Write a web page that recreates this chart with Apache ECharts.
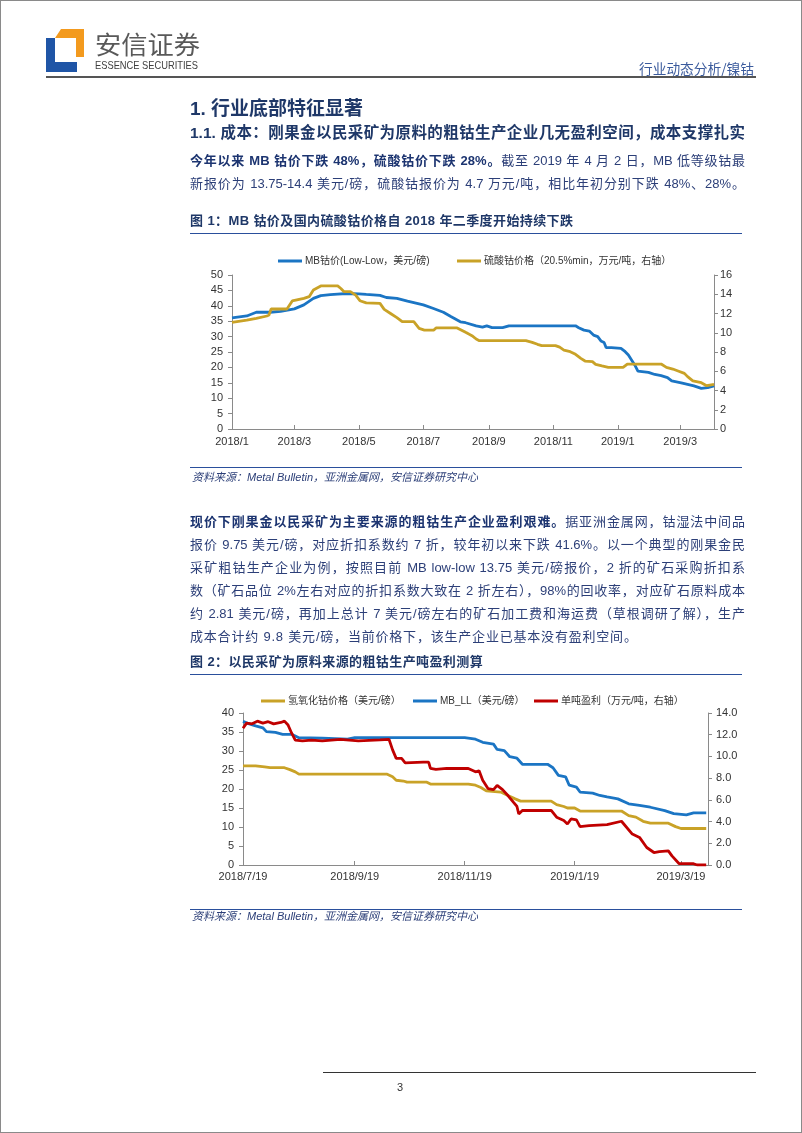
<!DOCTYPE html>
<html><head><meta charset="utf-8">
<script src="https://cdn.jsdelivr.net/npm/echarts@6/dist/echarts.min.js"></script>
<style>
html,body{margin:0;padding:0;background:#fff;}
#page{position:relative;width:802px;height:1133px;overflow:hidden;font-family:"Liberation Sans","Noto Sans CJK SC",sans-serif;}
#frame{position:absolute;left:0;top:0;width:800px;height:1131px;border:1px solid #8a8a8a;z-index:3;pointer-events:none;}
#chart{position:absolute;left:0;top:0;width:802px;height:1133px;z-index:0;}
.t{position:absolute;white-space:nowrap;z-index:2;}
.j{position:absolute;left:190px;width:555px;height:23px;line-height:23px;font-size:13px;color:#2c3f78;text-align:justify;text-align-last:justify;z-index:2;}
.j b{color:#1c3470;font-weight:700;}
.l{text-align:left;text-align-last:left;white-space:nowrap;letter-spacing:0.8px;}
.rule{position:absolute;z-index:2;}
</style></head>
<body><div id="page">
<div id="chart"></div>
<svg width="802" height="90" style="position:absolute;left:0;top:0;z-index:2">
  <polygon points="61,29 84,29 84,57 76,57 76,38 55,38" fill="#F39A1E"/>
  <polygon points="46,38 55,38 55,62 77,62 77,72 46,72" fill="#1F55A6"/>
  <text x="95" y="54" font-size="25" fill="#595959" textLength="105" lengthAdjust="spacingAndGlyphs" font-family="Noto Sans CJK SC">安信证券</text>
  <text x="95" y="68.5" font-size="11" fill="#404040" textLength="103" lengthAdjust="spacingAndGlyphs" font-family="Liberation Sans">ESSENCE SECURITIES</text>
  <text x="639" y="73.5" font-size="13.5" fill="#3B5B9D" textLength="115" lengthAdjust="spacingAndGlyphs" font-family="Noto Sans CJK SC">行业动态分析/镍钴</text>
  <rect x="46" y="76" width="710" height="2" fill="#555"/>
</svg>

<div class="t" style="left:190px;top:97px;font-size:19px;line-height:24px;font-weight:700;color:#1f3868;">1. 行业底部特征显著</div>
<div class="j" style="top:123px;height:20px;line-height:20px;font-size:15.5px;font-weight:700;color:#1f3868;">1.1. 成本：刚果金以民采矿为原料的粗钴生产企业几无盈利空间，成本支撑扎实</div>
<div class="j" style="top:148.5px;"><b>今年以来 MB 钴价下跌 48%，硫酸钴价下跌 28%。</b>截至 2019 年 4 月 2 日，MB 低等级钴最</div>
<div class="j" style="top:171.5px;">新报价为 13.75-14.4 美元/磅，硫酸钴报价为 4.7 万元/吨，相比年初分别下跌 48%、28%。</div>

<div class="t" style="left:190px;top:212px;font-size:13px;line-height:18px;font-weight:700;color:#1f3868;letter-spacing:0.4px;">图 1：MB 钴价及国内硫酸钴价格自 2018 年二季度开始持续下跌</div>
<div class="rule" style="left:190px;top:233px;width:552px;height:1px;background:#2a4f9c;"></div>
<div class="rule" style="left:190px;top:467px;width:552px;height:1px;background:#2a4f9c;"></div>
<div class="t" style="left:192px;top:470px;font-size:11px;line-height:14px;font-style:italic;color:#2c3f78;">资料来源：Metal Bulletin，亚洲金属网，安信证券研究中心</div>

<div class="j" style="top:509.5px;"><b>现价下刚果金以民采矿为主要来源的粗钴生产企业盈利艰难。</b>据亚洲金属网，钴湿法中间品</div>
<div class="j" style="top:532.5px;">报价 9.75 美元/磅，对应折扣系数约 7 折，较年初以来下跌 41.6%。以一个典型的刚果金民</div>
<div class="j" style="top:555.5px;">采矿粗钴生产企业为例，按照目前 MB low-low 13.75 美元/磅报价，2 折的矿石采购折扣系</div>
<div class="j" style="top:578.5px;">数（矿石品位 2%左右对应的折扣系数大致在 2 折左右），98%的回收率，对应矿石原料成本</div>
<div class="j" style="top:601.5px;">约 2.81 美元/磅，再加上总计 7 美元/磅左右的矿石加工费和海运费（草根调研了解），生产</div>
<div class="j l" style="top:624.5px;">成本合计约 9.8 美元/磅，当前价格下，该生产企业已基本没有盈利空间。</div>

<div class="t" style="left:190px;top:653px;font-size:13px;line-height:18px;font-weight:700;color:#1f3868;letter-spacing:0.4px;">图 2：以民采矿为原料来源的粗钴生产吨盈利测算</div>
<div class="rule" style="left:190px;top:674px;width:552px;height:1px;background:#2a4f9c;"></div>
<div class="rule" style="left:190px;top:909px;width:552px;height:1px;background:#2a4f9c;"></div>
<div class="t" style="left:192px;top:909px;font-size:11px;line-height:14px;font-style:italic;color:#2c3f78;">资料来源：Metal Bulletin，亚洲金属网，安信证券研究中心</div>

<div class="rule" style="left:323px;top:1072px;width:433px;height:1px;background:#333;"></div>
<div class="t" style="left:397px;top:1080px;font-size:11px;line-height:14px;color:#333;">3</div>
<div id="frame"></div>
</div>
<script>
// ---- data ----
const chart1Start = '2018-01-01', chart1End = '2019-04-02';
const chart2Start = '2018-07-19', chart2End = '2019-04-03';

// Figure 1: MB cobalt price (Low-Low, USD/lb, left axis)
const mbPrice = [
 ['2018-01-01',36.1],['2018-01-15',36.7],['2018-01-24',37.9],['2018-02-06',37.9],['2018-02-16',38.2],
 ['2018-03-01',39.0],['2018-03-10',40.3],['2018-03-19',42.4],['2018-03-26',43.3],['2018-04-04',43.6],
 ['2018-04-11',43.8],['2018-04-20',44.0],['2018-05-01',43.9],['2018-05-08',43.7],['2018-05-21',43.4],
 ['2018-05-27',42.7],['2018-06-06',42.4],['2018-06-16',41.5],['2018-06-25',40.8],['2018-07-01',40.3],
 ['2018-07-10',39.2],['2018-07-20',37.9],['2018-07-27',36.5],['2018-08-05',34.8],['2018-08-10',34.5],
 ['2018-08-20',33.5],['2018-08-26',33.1],['2018-08-30',33.5],['2018-09-04',32.9],['2018-09-14',32.9],
 ['2018-09-20',33.5],['2018-11-22',33.5],['2018-11-25',32.9],['2018-11-30',32.1],['2018-12-05',31.8],
 ['2018-12-09',30.5],['2018-12-13',30.0],['2018-12-16',28.6],['2018-12-19',28.1],['2018-12-21',26.4],
 ['2018-12-26',26.4],['2019-01-04',26.2],['2019-01-08',25.1],['2019-01-11',24.0],['2019-01-14',22.4],
 ['2019-01-17',20.8],['2019-01-20',18.8],['2019-01-30',18.4],['2019-02-05',17.7],['2019-02-11',17.3],
 ['2019-02-17',16.7],['2019-02-21',15.6],['2019-03-02',15.0],['2019-03-08',14.5],['2019-03-14',14.0],
 ['2019-03-21',13.2],['2019-03-27',13.4],['2019-04-02',14.0]
];
// Figure 1: cobalt sulfate price (20.5%min, 10k CNY/t, right axis)
const cobaltSulfate = [
 ['2018-01-01',11.08],['2018-01-15',11.3],['2018-01-24',11.5],['2018-02-03',11.74],['2018-02-05',11.84],
 ['2018-02-07',12.47],['2018-02-22',12.47],['2018-02-27',13.3],['2018-03-10',13.58],['2018-03-15',13.75],
 ['2018-03-19',14.44],['2018-03-26',14.86],['2018-04-11',14.86],['2018-04-14',14.6],['2018-04-17',14.27],
 ['2018-04-23',14.27],['2018-04-28',13.9],['2018-05-02',13.33],['2018-05-08',13.1],['2018-05-21',13.05],
 ['2018-05-25',12.43],['2018-05-31',12.0],['2018-06-06',11.57],['2018-06-11',11.15],['2018-06-22',11.15],
 ['2018-06-27',10.46],['2018-07-02',10.28],['2018-07-11',10.28],['2018-07-13',10.5],['2018-08-02',10.5],
 ['2018-08-10',10.04],['2018-08-16',9.7],['2018-08-20',9.35],['2018-08-23',9.18],['2018-10-06',9.18],
 ['2018-10-12',9.0],['2018-10-17',8.8],['2018-10-21',8.66],['2018-11-03',8.66],['2018-11-07',8.5],
 ['2018-11-11',8.2],['2018-11-17',8.03],['2018-11-22',7.76],['2018-11-27',7.34],['2018-12-01',7.06],
 ['2018-12-08',7.0],['2018-12-11',6.72],['2018-12-17',6.55],['2018-12-23',6.4],['2019-01-06',6.4],
 ['2019-01-10',6.75],['2019-02-11',6.75],['2019-02-16',6.4],['2019-02-22',6.23],['2019-02-27',6.03],
 ['2019-03-05',5.78],['2019-03-08',5.44],['2019-03-13',5.0],['2019-03-21',4.81],['2019-03-26',4.5],
 ['2019-03-29',4.57],['2019-04-02',4.64]
];
// Figure 2: cobalt hydroxide price (USD/lb, left axis)
const hydroxide = [
 ['2018-07-19',26.1],['2018-07-26',26.1],['2018-07-31',25.8],['2018-08-03',25.6],['2018-08-11',25.6],
 ['2018-08-14',25.1],['2018-08-17',24.5],['2018-08-19',23.9],['2018-10-07',23.9],['2018-10-10',23.2],
 ['2018-10-12',22.3],['2018-10-16',22.1],['2018-10-18',21.8],['2018-10-29',21.8],['2018-10-31',21.3],
 ['2018-11-21',21.3],['2018-11-25',21.0],['2018-11-28',20.4],['2018-12-01',19.5],['2018-12-09',19.2],
 ['2018-12-13',18.3],['2018-12-17',17.4],['2018-12-20',16.8],['2019-01-06',16.8],['2019-01-09',15.9],
 ['2019-01-13',15.4],['2019-01-15',15.0],['2019-01-19',15.0],['2019-01-22',14.2],['2019-02-14',14.2],
 ['2019-02-18',13.0],['2019-02-22',12.6],['2019-02-26',11.5],['2019-03-02',11.0],['2019-03-12',11.0],
 ['2019-03-16',10.1],['2019-03-19',9.6],['2019-04-02',9.6]
];
// Figure 2: MB_LL (USD/lb, left axis)
const mbLL = [
 ['2018-07-19',37.8],['2018-07-22',37.2],['2018-07-26',36.6],['2018-07-30',36.1],['2018-08-01',35.1],
 ['2018-08-06',34.9],['2018-08-10',34.4],['2018-08-15',34.4],['2018-08-19',33.5],['2018-09-01',33.4],
 ['2018-09-15',33.1],['2018-09-19',33.5],['2018-11-19',33.5],['2018-11-25',33.1],['2018-11-29',32.3],
 ['2018-12-05',31.8],['2018-12-07',30.4],['2018-12-11',30.1],['2018-12-14',28.5],['2018-12-18',28.1],
 ['2018-12-21',26.5],['2019-01-04',26.5],['2019-01-07',25.6],['2019-01-10',23.6],['2019-01-14',23.2],
 ['2019-01-16',21.0],['2019-01-20',20.5],['2019-01-22',19.2],['2019-01-29',18.9],['2019-02-02',18.3],
 ['2019-02-06',17.9],['2019-02-12',17.4],['2019-02-18',16.1],['2019-02-24',15.7],['2019-03-02',15.2],
 ['2019-03-10',14.3],['2019-03-15',13.5],['2019-03-22',13.2],['2019-03-26',13.7],['2019-04-02',13.7]
];
// Figure 2: profit per ton (10k CNY/t, right axis)
const profit = [
 ['2018-07-19',12.6],['2018-07-21',13.07],['2018-07-24',13.0],['2018-07-27',13.25],['2018-07-30',13.07],
 ['2018-08-02',13.2],['2018-08-05',13.0],['2018-08-09',13.13],['2018-08-11',13.25],['2018-08-13',12.9],
 ['2018-08-15',12.14],['2018-08-17',11.5],['2018-08-21',11.43],['2018-08-26',11.5],['2018-09-01',11.43],
 ['2018-09-11',11.58],['2018-09-21',11.43],['2018-10-03',11.52],['2018-10-08',11.58],['2018-10-10',10.6],
 ['2018-10-12',9.82],['2018-10-15',9.82],['2018-10-17',9.41],['2018-10-27',9.48],['2018-10-30',9.48],
 ['2018-10-31',8.89],['2018-11-03',8.8],['2018-11-09',8.89],['2018-11-21',8.89],['2018-11-25',8.58],
 ['2018-11-27',8.67],['2018-11-29',7.8],['2018-12-02',7.03],['2018-12-05',6.94],['2018-12-07',7.34],
 ['2018-12-10',6.94],['2018-12-13',6.4],['2018-12-16',5.79],['2018-12-18',5.39],['2018-12-19',4.7],
 ['2018-12-21',5.02],['2019-01-06',5.02],['2019-01-09',4.4],['2019-01-13',4.09],['2019-01-15',3.78],
 ['2019-01-17',4.24],['2019-01-20',4.15],['2019-01-22',3.53],['2019-01-27',3.62],['2019-02-06',3.72],
 ['2019-02-14',4.03],['2019-02-20',2.85],['2019-02-24',2.54],['2019-02-28',1.61],['2019-03-04',1.15],
 ['2019-03-07',1.24],['2019-03-12',1.3],['2019-03-14',0.84],['2019-03-18',0.12],['2019-03-26',0.12],
 ['2019-03-28',0.0],['2019-04-02',0.0]
];
const leftTicks1 = [0, 50, 5], rightTicks1 = [0, 16, 2];
const leftTicks2 = [0, 40, 5], rightTicks2 = [0, 14, 2];

// ---- build ----
const BLUE = '#1B75C4', GOLD = '#C9A227', RED = '#C00000', AXIS = '#8a8a8a', TXT = '#333';
const FONT = 'Liberation Sans, Arial, Noto Sans CJK SC, sans-serif';

function dayList(a, b) {
  const out = []; let t = Date.parse(a + 'T00:00:00Z'); const e = Date.parse(b + 'T00:00:00Z');
  while (t <= e) { out.push(new Date(t).toISOString().slice(0, 10)); t += 86400000; }
  return out;
}
const cat1 = dayList(chart1Start, chart1End);
const cat2 = dayList(chart2Start, chart2End);
function toIdx(cat, arr) { const m = {}; cat.forEach((d, i) => m[d] = i); return arr.map(p => [m[p[0]], p[1]]); }

const mark1 = (i, v) => v.slice(8) === '01' && (+v.slice(5, 7)) % 2 === 1;
const mark2 = (i, v) => v.slice(8) === '19' && (+v.slice(5, 7)) % 2 === 1;
const fmt1 = v => (+v.slice(0, 4)) + '/' + (+v.slice(5, 7));
const fmt2 = v => (+v.slice(0, 4)) + '/' + (+v.slice(5, 7)) + '/' + (+v.slice(8));

function xAx(g, cat, mark, fmt, margin) {
  return { type: 'category', gridIndex: g, data: cat, boundaryGap: false,
    axisLine: { lineStyle: { color: AXIS, width: 1 } },
    axisTick: { show: true, inside: true, length: 4, interval: mark, lineStyle: { color: AXIS } },
    axisLabel: { interval: mark, formatter: fmt, color: TXT, fontSize: 11, fontFamily: FONT, margin: margin },
    splitLine: { show: false } };
}
function yAx(g, pos, t, margin, fmt) {
  return { type: 'value', gridIndex: g, position: pos, min: t[0], max: t[1], interval: t[2],
    axisLine: { show: true, lineStyle: { color: AXIS, width: 1 } },
    axisTick: { show: true, length: 4, lineStyle: { color: AXIS } },
    splitLine: { show: false },
    axisLabel: { color: TXT, fontSize: 11, fontFamily: FONT, margin: margin, formatter: fmt } };
}
function lg(name, left, top) {
  return { data: [name], left: left, top: top, padding: 0, icon: 'rect', itemWidth: 24, itemHeight: 3,
    itemGap: 0, selectedMode: false, textStyle: { fontSize: 10, color: TXT, fontFamily: FONT, padding: [0, 0, 0, -2] } };
}
function ln(name, x, y, data, color) {
  return { name: name, type: 'line', xAxisIndex: x, yAxisIndex: y, data: data, showSymbol: false,
    symbol: 'none', color: color, lineStyle: { color: color, width: 2.8 }, itemStyle: { color: color } };
}

const n1a = 'MB钴价(Low-Low，美元/磅)', n1b = '硫酸钴价格（20.5%min，万元/吨，右轴）';
const n2a = '氢氧化钴价格（美元/磅）', n2b = 'MB_LL（美元/磅）', n2c = '单吨盈利（万元/吨，右轴）';

const option = {
  animation: false,
  grid: [
    { left: 232, top: 275, width: 482, height: 154 },
    { left: 243, top: 713, width: 465, height: 152 }
  ],
  legend: [lg(n1a, 278, 256), lg(n1b, 457, 256), lg(n2a, 261, 696), lg(n2b, 413, 696), lg(n2c, 534, 696)],
  xAxis: [xAx(0, cat1, mark1, fmt1, 7), xAx(1, cat2, mark2, fmt2, 6)],
  yAxis: [
    yAx(0, 'left', leftTicks1, 9), yAx(0, 'right', rightTicks1, 6),
    yAx(1, 'left', leftTicks2, 9), yAx(1, 'right', rightTicks2, 8, v => v.toFixed(1))
  ],
  series: [
    ln(n1a, 0, 0, toIdx(cat1, mbPrice), BLUE),
    ln(n1b, 0, 1, toIdx(cat1, cobaltSulfate), GOLD),
    ln(n2a, 1, 2, toIdx(cat2, hydroxide), GOLD),
    ln(n2b, 1, 2, toIdx(cat2, mbLL), BLUE),
    ln(n2c, 1, 3, toIdx(cat2, profit), RED)
  ]
};
const chart = echarts.init(document.getElementById('chart'), null, { renderer: 'canvas' });
chart.setOption(option);
</script>
</body></html>
